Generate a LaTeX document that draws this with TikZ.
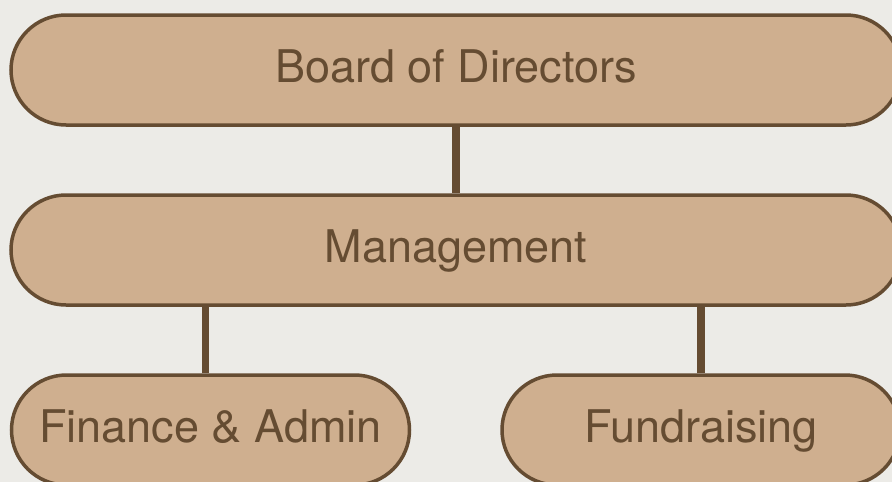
\documentclass[tikz,border=0pt]{standalone}
\usepackage{fontspec}
\setmainfont{TeX Gyre Heros}
\usetikzlibrary{positioning}
\definecolor{paper}{HTML}{ECEBE7}
\definecolor{tan}{HTML}{CFAF8F}
\definecolor{bark}{HTML}{654C32}

\begin{document}
\begin{tikzpicture}[x=1pt, y=-1pt, line width=3.5pt,
	unit/.style = {draw=bark, fill=tan, text=bark, rounded corners=55pt, minimum height=110pt, inner sep=0pt, text height=32pt, text depth=8pt, font=\fontsize{45}{52}\selectfont},
	wide/.style = {unit, minimum width=890pt},
	half/.style = {unit, minimum width=398pt},
	link/.style = {draw=bark, line width=7.5pt}]
	\fill[paper] (0,0) rectangle (892,482);
	\useasboundingbox (0,0) rectangle (892,482);
	\clip (0,0) rectangle (892,482);
	\node[wide] (board) at (456,70) {Board of Directors};
	\node[wide] (mgmt) at (456,250) {Management};
	\node[half] (fin) at (210.5,430) {Finance \& Admin};
	\node[half] (fund) at (701,430) {Fundraising};
	\draw[link] (board.south) -- (mgmt.north);
	\draw[link] ([xshift=-5pt]fin.north) -- ([xshift=-5pt]fin.north |- mgmt.south);
	\draw[link] (fund.north) -- (fund.north |- mgmt.south);
\end{tikzpicture}
\end{document}
